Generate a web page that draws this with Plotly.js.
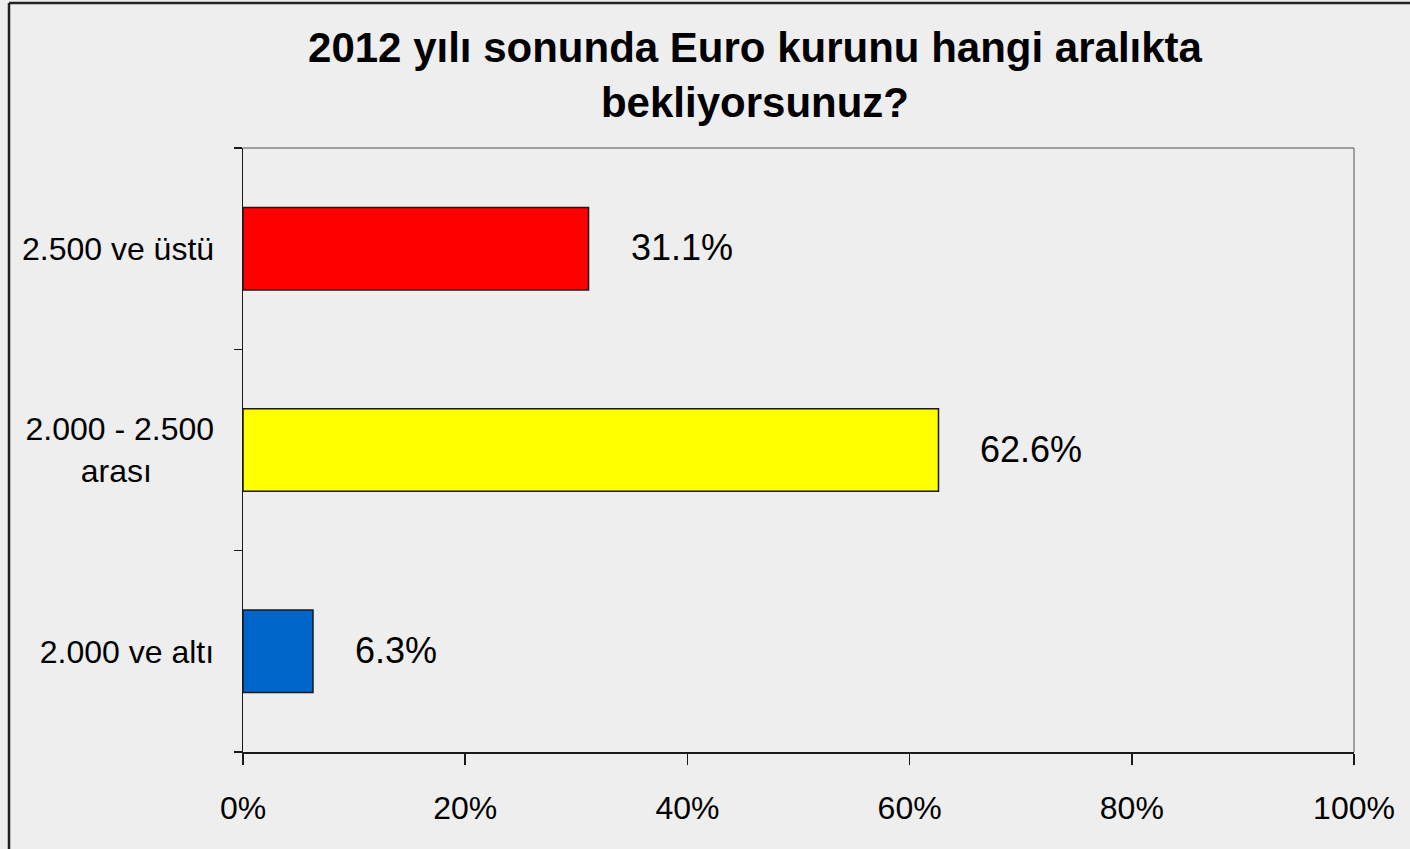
<!DOCTYPE html>
<html>
<head>
<meta charset="utf-8">
<script src="https://cdn.plot.ly/plotly-3.0.1.min.js"></script>
<style>
html,body{margin:0;padding:0;background:#eeeeee;}
#chart{width:1410px;height:849px;}
</style>
</head>
<body>
<div id="chart"></div>
<script>
const categories = ["2.000 ve altı", "2.000 - 2.500<br>arası\u00a0\u00a0\u00a0\u00a0\u00a0\u00a0\u00a0", "2.500 ve üstü"];
const values = [6.3, 62.6, 31.1];
const barColors = ["#0066cc", "#ffff00", "#ff0000"];
const xTickValues = [0, 20, 40, 60, 80, 100];
const xTickLabels = ["0%", "20%", "40%", "60%", "80%", "100%"];
const titleText = "2012 yılı sonunda Euro kurunu hangi aralıkta<br>bekliyorsunuz?";

const W = 1410, H = 849;
const m = {l: 243, r: 56, t: 148, b: 97};
const pw = W - m.l - m.r, ph = H - m.t - m.b;
const px = v => (v - m.l) / pw;
const py = v => (H - m.b - v) / ph;

const font = "Liberation Sans, Arial, sans-serif";

const trace = {
  type: "bar",
  orientation: "h",
  y: categories,
  x: values,
  marker: {color: barColors, line: {color: "#1a1a1a", width: 1.5}},
  hoverinfo: "none"
};

const annotations = values.map((v, i) => ({
  x: v, y: categories[i], xref: "x", yref: "y",
  text: v.toFixed(1) + "%",
  showarrow: false, xanchor: "left", yanchor: "middle",
  xshift: 40, yshift: 1,
  font: {family: font, size: 36, color: "#000"}
}));

const layout = {
  width: W, height: H,
  margin: m,
  paper_bgcolor: "#eeeeee",
  plot_bgcolor: "#eeeeee",
  showlegend: false,
  bargap: 0.59,
  title: {
    text: titleText,
    font: {family: font, size: 42, color: "#000", weight: "bold"},
    x: 755 / W, xanchor: "center", xref: "container",
    y: 1 - 62 / H, yanchor: "middle", yref: "container"
  },
  xaxis: {
    range: [0, 100],
    tickmode: "array",
    tickvals: xTickValues,
    ticktext: xTickLabels,
    showgrid: false, zeroline: false,
    showline: true, linecolor: "#1a1a1a", linewidth: 1.5,
    ticks: "outside", ticklen: 11, tickcolor: "#1a1a1a", tickwidth: 1.5,
    ticklabelstandoff: 16,
    tickfont: {family: font, size: 32, color: "#000"},
    fixedrange: true
  },
  yaxis: {
    type: "category",
    categoryorder: "array",
    categoryarray: categories,
    showgrid: false, zeroline: false,
    showline: true, linecolor: "#1a1a1a", linewidth: 1.5,
    ticks: "outside", ticklen: 8, tickcolor: "#1a1a1a", tickwidth: 1.5,
    tickson: "boundaries",
    ticklabelstandoff: 21,
    tickfont: {family: font, size: 32, color: "#000"},
    fixedrange: true
  },
  annotations: annotations,
  shapes: [
    {type: "line", xref: "paper", yref: "paper", x0: 0, x1: 1, y0: 1, y1: 1,
     line: {color: "#868686", width: 1.5}, layer: "below"},
    {type: "line", xref: "paper", yref: "paper", x0: 1, x1: 1, y0: 0, y1: 1,
     line: {color: "#868686", width: 1.5}, layer: "below"},
    {type: "line", xref: "paper", yref: "paper", x0: px(9), x1: px(9), y0: py(3), y1: py(H + 5),
     line: {color: "#222", width: 2.5}},
    {type: "line", xref: "paper", yref: "paper", x0: px(9), x1: px(W + 5), y0: py(3), y1: py(3),
     line: {color: "#222", width: 2.5}}
  ]
};

Plotly.newPlot("chart", [trace], layout, {displayModeBar: false, staticPlot: true});
</script>
</body>
</html>
